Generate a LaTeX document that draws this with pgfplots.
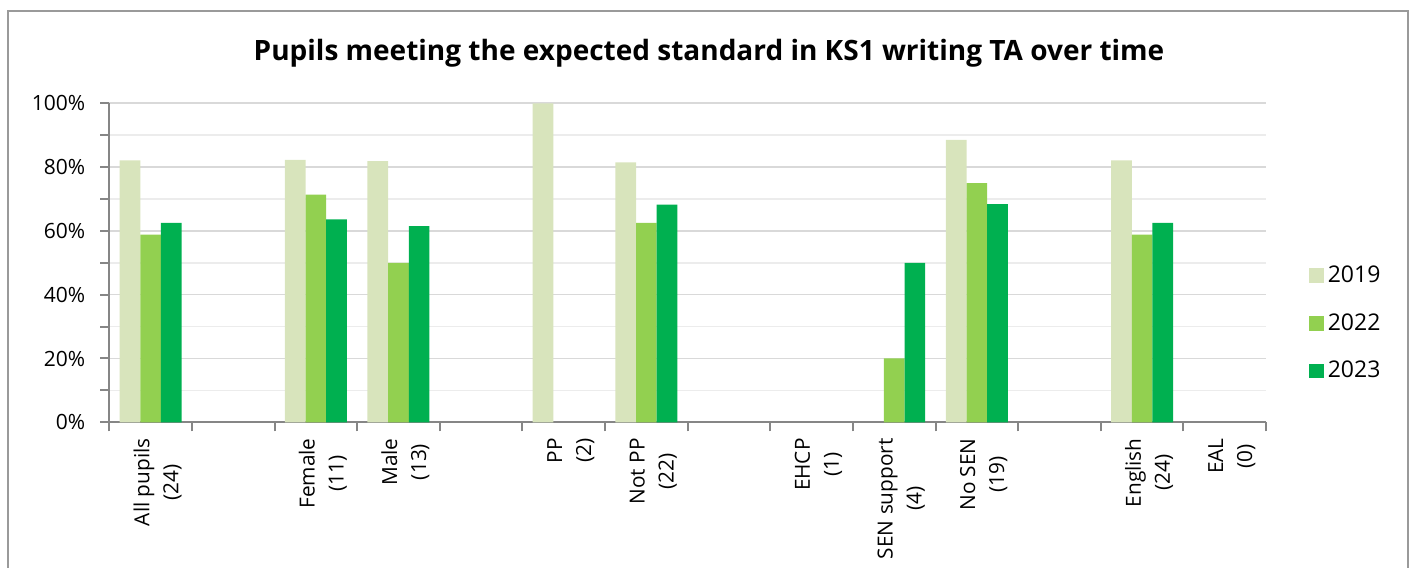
\documentclass[border=0pt]{standalone}
\usepackage{fontspec}
\setmainfont{Open Sans}
\usepackage{pgfplots}
\pgfplotsset{compat=1.18}
\definecolor{cA}{HTML}{D8E4BC}
\definecolor{cB}{HTML}{92D050}
\definecolor{cC}{HTML}{00B050}
\definecolor{gridmaj}{HTML}{D9D9D9}
\definecolor{gridmin}{HTML}{ECECEC}
\definecolor{axisc}{HTML}{868686}
\definecolor{borderc}{HTML}{9A9A9A}
\begin{document}
\begin{tikzpicture}
\useasboundingbox (0,0) rectangle (706pt,283.5pt);
\draw[color=borderc, line width=1pt] (4pt,-20pt) rectangle (704pt,278pt);
\node[font=\bfseries\fontsize{14}{16}\selectfont, anchor=base, inner sep=0pt] at (354.5pt,253pt) {Pupils meeting the expected standard in KS1 writing TA over time};
\begin{axis}[
  at={(54.65pt,72.35pt)}, anchor=south west,
  scale only axis, width=578.35pt, height=159.5pt,
  ybar=0pt, bar width=0.25,
  xmin=-0.5, xmax=13.5, ymin=0, ymax=100,
  axis x line*=bottom, axis y line*=left,
  axis line style={color=axisc, line width=1pt},
  xtick={0,...,13},
  xticklabels={{All pupils\\(24)},{},{Female\\(11)},{Male\\(13)},{},{PP\\(2)},{Not PP\\(22)},{},{EHCP\\(1)},{SEN support\\(4)},{No SEN\\(19)},{},{English\\(24)},{EAL\\(0)}},
  xticklabel style={rotate=90, anchor=east, align=center, font=\fontsize{10.4}{14.5}\selectfont, yshift=-3.5pt},
  major x tick style={draw=none},
  minor xtick={-0.5,0.5,...,13.5},
  minor x tick style={color=axisc, line width=1pt},
  ytick={0,20,...,100},
  minor ytick={10,30,...,90},
  yticklabel={\pgfmathprintnumber{\tick}\%},
  /pgf/number format/assume math mode=true,
  yticklabel style={font=\fontsize{10.5}{12}\selectfont, xshift=-4pt},
  y tick style={color=axisc, line width=1pt},
  tick align=outside,
  major tick length=4.5pt, minor tick length=4.5pt,
  ymajorgrids, yminorgrids,
  major grid style={color=gridmaj, line width=0.8pt},
  minor grid style={color=gridmin, line width=0.8pt},
  legend style={at={(1.037,0.31)}, anchor=west, draw=none, fill=none, inner sep=0pt,
    font=\fontsize{11.5}{13}\selectfont, row sep=10pt},
  legend cell align=left,
  legend image code/.code={\fill[#1] (0pt,-3.65pt) rectangle (7.3pt,3.65pt);},
]
\addplot[fill=cA, draw=none] coordinates {(0,82.1) (2,82.3) (3,81.9) (5,100) (6,81.5) (10,88.5) (12,82.1)};
\addplot[fill=cB, draw=none] coordinates {(0,58.8) (2,71.4) (3,50) (6,62.5) (9,20) (10,75) (12,58.8)};
\addplot[fill=cC, draw=none] coordinates {(0,62.5) (2,63.6) (3,61.5) (6,68.2) (9,50) (10,68.4) (12,62.5)};
\legend{2019,2022,2023}
\end{axis}
\end{tikzpicture}
\end{document}
